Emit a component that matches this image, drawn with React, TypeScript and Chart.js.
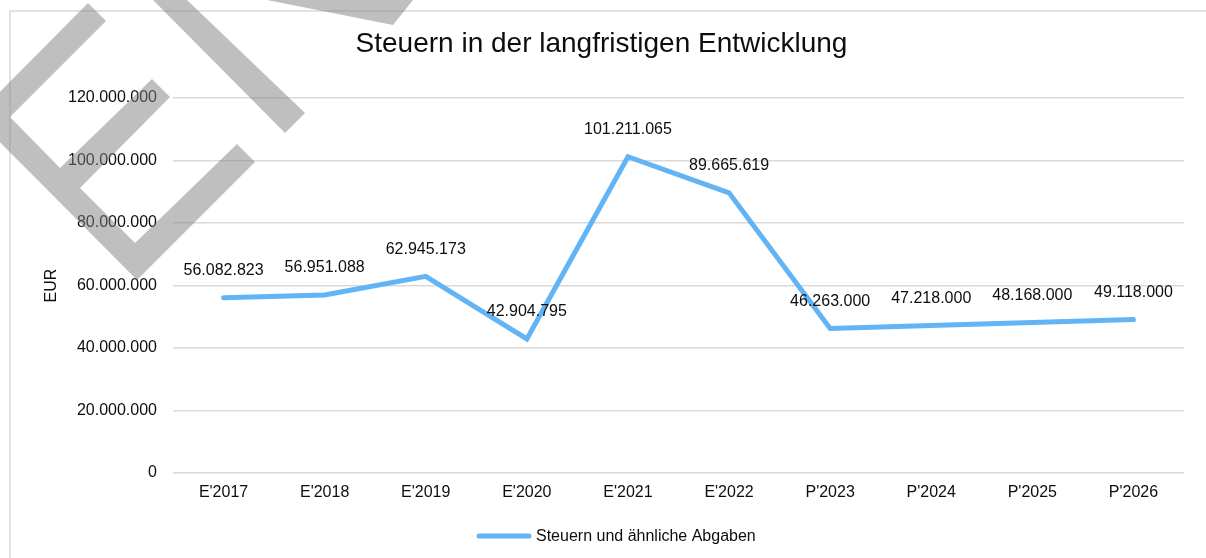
import React, { useEffect, useRef } from 'react';
import { Chart, registerables } from 'chart.js';

Chart.register(...registerables);

const TITLE = 'Steuern in der langfristigen Entwicklung';
const SERIES_NAME = 'Steuern und ähnliche Abgaben';
const Y_TITLE = 'EUR';

const categories = ["E'2017", "E'2018", "E'2019", "E'2020", "E'2021", "E'2022", "P'2023", "P'2024", "P'2025", "P'2026"];
const taxValues = [56082823, 56951088, 62945173, 42904795, 101211065, 89665619, 46263000, 47218000, 48168000, 49118000];
const yMin = 0;
const yMax = 120000000;
const yStep = 20000000;

const FONT = "'Liberation Sans', Arial, sans-serif";
const TEXT = '#0d0d0d';
const LINE = '#63b4f4';
const GRID = '#d9d9d9';

const fmt = (n: number) => Math.round(n).toString().replace(/\B(?=(\d{3})+(?!\d))/g, '.');

const framePlugin = {
  id: 'frame',
  beforeDraw(chart: any) {
    const { ctx } = chart;
    ctx.save();
    ctx.fillStyle = '#ffffff';
    ctx.fillRect(0, 0, chart.width, chart.height);
    ctx.strokeStyle = GRID;
    ctx.lineWidth = 1.5;
    ctx.beginPath();
    ctx.moveTo(10, chart.height + 5);
    ctx.lineTo(10, 11);
    ctx.lineTo(chart.width + 5, 11);
    ctx.stroke();
    ctx.restore();
  },
};

const labelPlugin = {
  id: 'pointLabels',
  afterDatasetsDraw(chart: any) {
    const { ctx } = chart;
    const meta = chart.getDatasetMeta(0);
    ctx.save();
    ctx.font = `16px ${FONT}`;
    ctx.fillStyle = TEXT;
    ctx.textAlign = 'center';
    ctx.textBaseline = 'middle';
    meta.data.forEach((pt: any, i: number) => {
      ctx.fillText(fmt(taxValues[i]), pt.x, pt.y - 27);
    });
    ctx.restore();
  },
};

const titleLegendPlugin = {
  id: 'titleLegend',
  afterDraw(chart: any) {
    const { ctx } = chart;
    ctx.save();
    ctx.fillStyle = TEXT;
    ctx.font = `28px ${FONT}`;
    ctx.textAlign = 'center';
    ctx.textBaseline = 'alphabetic';
    ctx.fillText(TITLE, 601.5, 52);

    // legend
    ctx.strokeStyle = LINE;
    ctx.lineWidth = 5;
    ctx.lineCap = 'round';
    ctx.beginPath();
    ctx.moveTo(479, 536);
    ctx.lineTo(529, 536);
    ctx.stroke();
    ctx.font = `16px ${FONT}`;
    ctx.textAlign = 'left';
    ctx.textBaseline = 'middle';
    ctx.fillText(SERIES_NAME, 536, 537);
    ctx.restore();
  },
};

const WATERMARK = [
  [[-25, 117], [88, 3], [106, 21], [10, 117], [60, 168], [152, 79], [170, 97], [80, 188], [135, 243], [237, 144], [255, 162], [137, 280]],
  [[153, 0], [187, 0], [305, 113], [285, 133], [153, 0]],
  [[267, 0], [413, 0], [393, 25]],
];

const watermarkPlugin = {
  id: 'watermark',
  afterDraw(chart: any) {
    const { ctx } = chart;
    ctx.save();
    ctx.fillStyle = 'rgba(128,128,128,0.5)';
    WATERMARK.forEach((poly) => {
      ctx.beginPath();
      poly.forEach(([x, y], i) => (i === 0 ? ctx.moveTo(x, y) : ctx.lineTo(x, y)));
      ctx.closePath();
      ctx.fill();
    });
    ctx.restore();
  },
};

export default function App() {
  const ref = useRef<HTMLCanvasElement | null>(null);

  useEffect(() => {
    if (!ref.current) return;
    const chart = new Chart(ref.current, {
      type: 'line',
      data: {
        labels: categories,
        datasets: [
          {
            label: SERIES_NAME,
            data: taxValues,
            borderColor: LINE,
            backgroundColor: LINE,
            borderWidth: 5,
            pointRadius: 0,
            pointHoverRadius: 0,
            tension: 0,
            borderCapStyle: 'round',
            fill: false,
          },
        ],
      },
      options: {
        responsive: false,
        animation: false,
        layout: { padding: { left: 38, top: 98, right: 22, bottom: 0 } },
        plugins: {
          legend: { display: false },
          title: { display: false },
          tooltip: { enabled: false },
        },
        scales: {
          x: {
            type: 'category',
            offset: true,
            grid: { display: false, drawTicks: false },
            border: { display: false },
            ticks: { font: { size: 16, family: FONT }, color: TEXT, padding: 10, maxRotation: 0, autoSkip: false },
            afterFit: (s: any) => {
              s.height = 85;
            },
          },
          y: {
            min: yMin,
            max: yMax,
            grid: { color: GRID, lineWidth: 1.5, drawTicks: false },
            border: { display: false },
            ticks: {
              stepSize: yStep,
              padding: 16,
              font: { size: 16, family: FONT },
              color: TEXT,
              callback: (v: any) => fmt(Number(v)),
            },
            title: {
              display: true,
              text: Y_TITLE,
              font: { size: 16, family: FONT },
              color: TEXT,
              padding: { top: 4, bottom: 0 },
            },
            afterFit: (s: any) => {
              s.width = 135;
            },
          },
        },
      },
      plugins: [framePlugin, labelPlugin, titleLegendPlugin, watermarkPlugin],
    } as any);
    return () => chart.destroy();
  }, []);

  return (
    <div style={{ position: 'absolute', left: 0, top: 0, width: 1206, height: 558 }}>
      <canvas ref={ref} width={1206} height={558} style={{ display: 'block', width: 1206, height: 558 }} />
    </div>
  );
}
